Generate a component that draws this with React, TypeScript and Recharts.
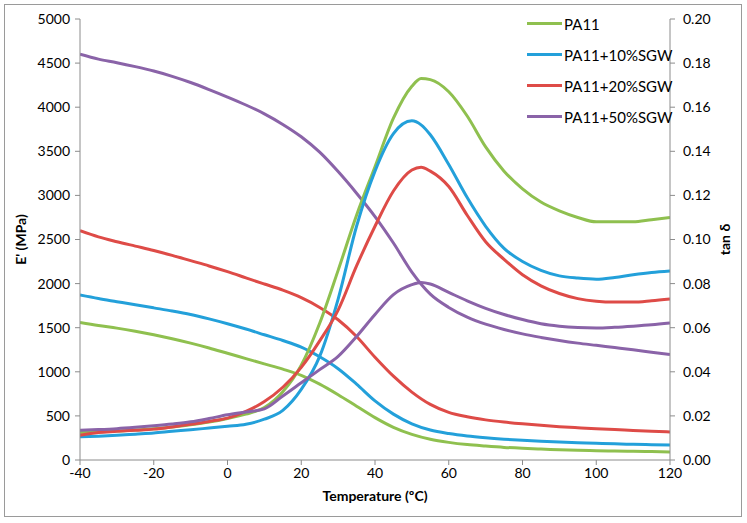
import React from "react"
import { LineChart, Line, XAxis, YAxis } from "recharts"

// temperature grids (°C)
const TEMP = [-40, -35, -30, -25, -20, -15, -10, -5, 0, 5, 10, 15, 20, 25, 30, 35, 40, 45, 50, 55, 60, 65, 70, 75, 80, 85, 90, 95, 100, 105, 110, 115, 120]
const TEMP_TAN = [-40, -35, -30, -25, -20, -15, -10, -5, 0, 5, 10, 15, 20, 25, 30, 35, 40, 45, 50, 52.5, 55, 60, 65, 70, 75, 80, 85, 90, 95, 100, 105, 110, 115, 120]

// storage modulus E' (MPa)
const pa11E = [1560, 1525, 1495, 1460, 1420, 1375, 1325, 1270, 1210, 1150, 1090, 1030, 960, 860, 740, 610, 480, 370, 290, 235, 200, 175, 158, 143, 132, 124, 117, 111, 106, 102, 98, 95, 92]
const sgw10E = [1870, 1830, 1795, 1760, 1725, 1690, 1650, 1600, 1545, 1485, 1420, 1355, 1280, 1170, 1035, 860, 670, 520, 410, 340, 300, 272, 252, 236, 223, 212, 203, 195, 189, 183, 178, 174, 170]
const sgw20E = [2600, 2530, 2475, 2425, 2375, 2320, 2260, 2200, 2135, 2065, 1995, 1925, 1840, 1730, 1590, 1400, 1165, 950, 770, 630, 540, 490, 455, 430, 410, 393, 378, 366, 355, 345, 335, 326, 318]
const sgw50E = [4600, 4545, 4505, 4460, 4410, 4350, 4280, 4200, 4115, 4025, 3925, 3805, 3665, 3490, 3270, 3025, 2760, 2460, 2130, 1880, 1730, 1620, 1540, 1480, 1430, 1390, 1355, 1325, 1300, 1275, 1250, 1222, 1195]

// tan delta
const pa11Tan = [0.0125, 0.0128, 0.0131, 0.0136, 0.0142, 0.015, 0.016, 0.0172, 0.0188, 0.0208, 0.0238, 0.031, 0.043, 0.062, 0.086, 0.111, 0.133, 0.155, 0.1695, 0.173, 0.1725, 0.167, 0.156, 0.142, 0.131, 0.123, 0.117, 0.113, 0.11, 0.108, 0.108, 0.108, 0.109, 0.11]
const sgw10Tan = [0.0105, 0.0108, 0.0112, 0.0117, 0.0122, 0.013, 0.0137, 0.0145, 0.0153, 0.0162, 0.0185, 0.0225, 0.032, 0.047, 0.073, 0.106, 0.131, 0.148, 0.1538, 0.152, 0.1475, 0.134, 0.119, 0.106, 0.096, 0.09, 0.086, 0.0835, 0.0825, 0.082, 0.0828, 0.084, 0.085, 0.0857]
const sgw20Tan = [0.0112, 0.0125, 0.013, 0.0135, 0.014, 0.015, 0.0162, 0.0175, 0.019, 0.022, 0.0265, 0.033, 0.042, 0.054, 0.068, 0.088, 0.106, 0.122, 0.1315, 0.1328, 0.131, 0.124, 0.111, 0.099, 0.091, 0.084, 0.079, 0.0755, 0.0732, 0.072, 0.0716, 0.0716, 0.0722, 0.073]
const sgw50Tan = [0.0135, 0.0138, 0.0142, 0.0148, 0.0155, 0.0163, 0.0173, 0.0188, 0.0205, 0.0218, 0.0232, 0.029, 0.035, 0.041, 0.047, 0.056, 0.066, 0.075, 0.0795, 0.0805, 0.0798, 0.076, 0.0722, 0.0688, 0.066, 0.0637, 0.0618, 0.0607, 0.0601, 0.0599, 0.0602, 0.0607, 0.0613, 0.0621]

const SERIES = ["PA11", "PA11+10%SGW", "PA11+20%SGW", "PA11+50%SGW"]
const COLORS = ["#8fc04f", "#23a0da", "#de4b47", "#8a63a8"]
const E_VALUES = [pa11E, sgw10E, sgw20E, sgw50E]
const TAN_VALUES = [pa11Tan, sgw10Tan, sgw20Tan, sgw50Tan]

const X_TICKS = [-40, -20, 0, 20, 40, 60, 80, 100, 120]
const E_TICKS = [0, 500, 1000, 1500, 2000, 2500, 3000, 3500, 4000, 4500, 5000]
const TAN_TICKS = [0, 0.02, 0.04, 0.06, 0.08, 0.1, 0.12, 0.14, 0.16, 0.18, 0.2]

const FONT = "Lato, 'Open Sans', sans-serif"
const AXIS_COLOR = "#8c8c8c"

const toPoints = (temps: number[], vals: number[]) => temps.map((t, i) => ({ t, v: vals[i] }))

function LegendBox() {
  return (
    <div style={{ position: "absolute", left: 527, top: 8, fontFamily: FONT, fontSize: 15, color: "#000" }}>
      {SERIES.map((name, i) => (
        <div key={name} style={{ display: "flex", alignItems: "center", height: 31 }}>
          <div style={{ width: 35, height: 3.5, background: COLORS[i], marginRight: 2 }} />
          <span>{name}</span>
        </div>
      ))}
    </div>
  )
}

export default function App() {
  const tick = { fill: "#000", fontSize: 14, fontFamily: FONT }
  return (
    <div style={{ position: "absolute", left: 0, top: 0, width: 747, height: 523, background: "#fff" }}>
      <div style={{ position: "absolute", left: 4, top: 4, width: 738, height: 513, border: "1px solid #9a9a9a", boxSizing: "border-box" }} />
      <div style={{ position: "absolute", left: 0, top: 0 }}>
        <LineChart width={747} height={523} margin={{ top: 19, right: 17, bottom: 33, left: 20 }}>
          <XAxis
            dataKey="t"
            type="number"
            domain={[-40, 120]}
            ticks={X_TICKS}
            allowDataOverflow
            height={30}
            stroke={AXIS_COLOR}
            tick={tick}
            tickSize={5}
            tickMargin={3}
            label={({ viewBox }: any) => (
              <text x={viewBox.x + viewBox.width / 2} y={501} textAnchor="middle" fontFamily={FONT} fontSize={14} fontWeight="bold" fill="#000">
                Temperature (ºC)
              </text>
            )}
          />
          <YAxis
            yAxisId="E"
            orientation="left"
            domain={[0, 5000]}
            ticks={E_TICKS}
            width={60}
            stroke={AXIS_COLOR}
            tick={tick}
            tickSize={5}
            tickMargin={5}
            label={({ viewBox }: any) => (
              <text x={26} y={viewBox.y + viewBox.height / 2} transform={`rotate(-90, 26, ${viewBox.y + viewBox.height / 2})`} textAnchor="middle" fontFamily={FONT} fontSize={14} fontWeight="bold" fill="#000">
                E' (MPa)
              </text>
            )}
          />
          <YAxis
            yAxisId="tan"
            orientation="right"
            domain={[0, 0.2]}
            ticks={TAN_TICKS}
            width={60}
            stroke={AXIS_COLOR}
            tick={tick}
            tickSize={5}
            tickMargin={8}
            tickFormatter={(v: number) => v.toFixed(2)}
            label={({ viewBox }: any) => (
              <text x={730} y={viewBox.y + viewBox.height / 2} transform={`rotate(-90, 730, ${viewBox.y + viewBox.height / 2})`} textAnchor="middle" fontFamily={FONT} fontSize={14} fontWeight="bold" fill="#000">
                tan δ
              </text>
            )}
          />
          {SERIES.map((name, i) => (
            <Line
              key={`E-${name}`}
              yAxisId="E"
              data={toPoints(TEMP, E_VALUES[i])}
              dataKey="v"
              type="monotone"
              stroke={COLORS[i]}
              strokeWidth={3}
              dot={false}
              isAnimationActive={false}
            />
          ))}
          {SERIES.map((name, i) => (
            <Line
              key={`tan-${name}`}
              yAxisId="tan"
              data={toPoints(TEMP_TAN, TAN_VALUES[i])}
              dataKey="v"
              type="monotone"
              stroke={COLORS[i]}
              strokeWidth={3}
              dot={false}
              isAnimationActive={false}
            />
          ))}
        </LineChart>
      </div>
      <LegendBox />
    </div>
  )
}
